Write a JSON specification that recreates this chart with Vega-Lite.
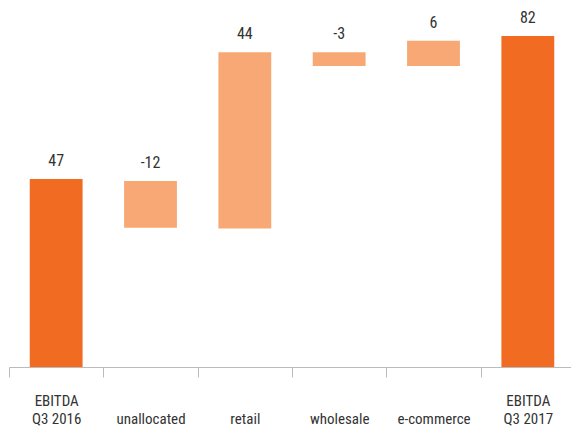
{
  "$schema": "https://vega.github.io/schema/vega-lite/v6.json",
  "width": 562,
  "height": 367,
  "autosize": {"type": "none"},
  "padding": {"left": 9, "top": 0, "right": 0, "bottom": 62},
  "data": {
    "values": [
      {"category": "EBITDA Q3 2016", "low": 0, "high": 46.6, "label": "47", "kind": "total"},
      {"category": "unallocated", "low": 34.5, "high": 46.1, "label": "-12", "kind": "change"},
      {"category": "retail", "low": 34.3, "high": 78.0, "label": "44", "kind": "change"},
      {"category": "wholesale", "low": 74.6, "high": 78.0, "label": "-3", "kind": "change"},
      {"category": "e-commerce", "low": 74.6, "high": 80.8, "label": "6", "kind": "change"},
      {"category": "EBITDA Q3 2017", "low": 0, "high": 82.0, "label": "82", "kind": "total"}
    ]
  },
  "encoding": {
    "x": {
      "field": "category",
      "type": "nominal",
      "sort": null,
      "scale": {"paddingInner": 0, "paddingOuter": 0, "range": [0, 566]},
      "axis": {
        "title": null,
        "labelAngle": 0,
        "tickBand": "extent",
        "domainColor": "#bbbbbb",
        "tickColor": "#bbbbbb",
        "tickSize": 10,
        "labelPadding": 16,
        "labelBaseline": "top",
        "labelLineHeight": 18,
        "labelFont": "Liberation Sans Narrow, Roboto Condensed, sans-serif",
        "labelFontSize": 15,
        "labelColor": "#333333",
        "labelLimit": 0,
        "labelExpr": "indexof(datum.label,'EBITDA')==0 ? ['EBITDA', slice(datum.label,7)] : [' ', datum.label]"
      }
    }
  },
  "layer": [
    {
      "mark": {"type": "bar", "width": {"band": 0.56}},
      "encoding": {
        "y": {"field": "high", "type": "quantitative", "scale": {"domain": [0, 90.92], "nice": false, "zero": true}, "axis": null},
        "y2": {"field": "low"},
        "color": {
          "field": "kind",
          "type": "nominal",
          "scale": {"domain": ["total", "change"], "range": ["#F26B22", "#F7A874"]},
          "legend": null
        }
      }
    },
    {
      "mark": {"type": "text", "baseline": "alphabetic", "dy": -13, "font": "Liberation Sans Narrow, Roboto Condensed, sans-serif", "fontSize": 16, "color": "#333333"},
      "encoding": {
        "y": {"field": "high", "type": "quantitative"},
        "text": {"field": "label"}
      }
    }
  ],
  "config": {"view": {"stroke": null}}
}
